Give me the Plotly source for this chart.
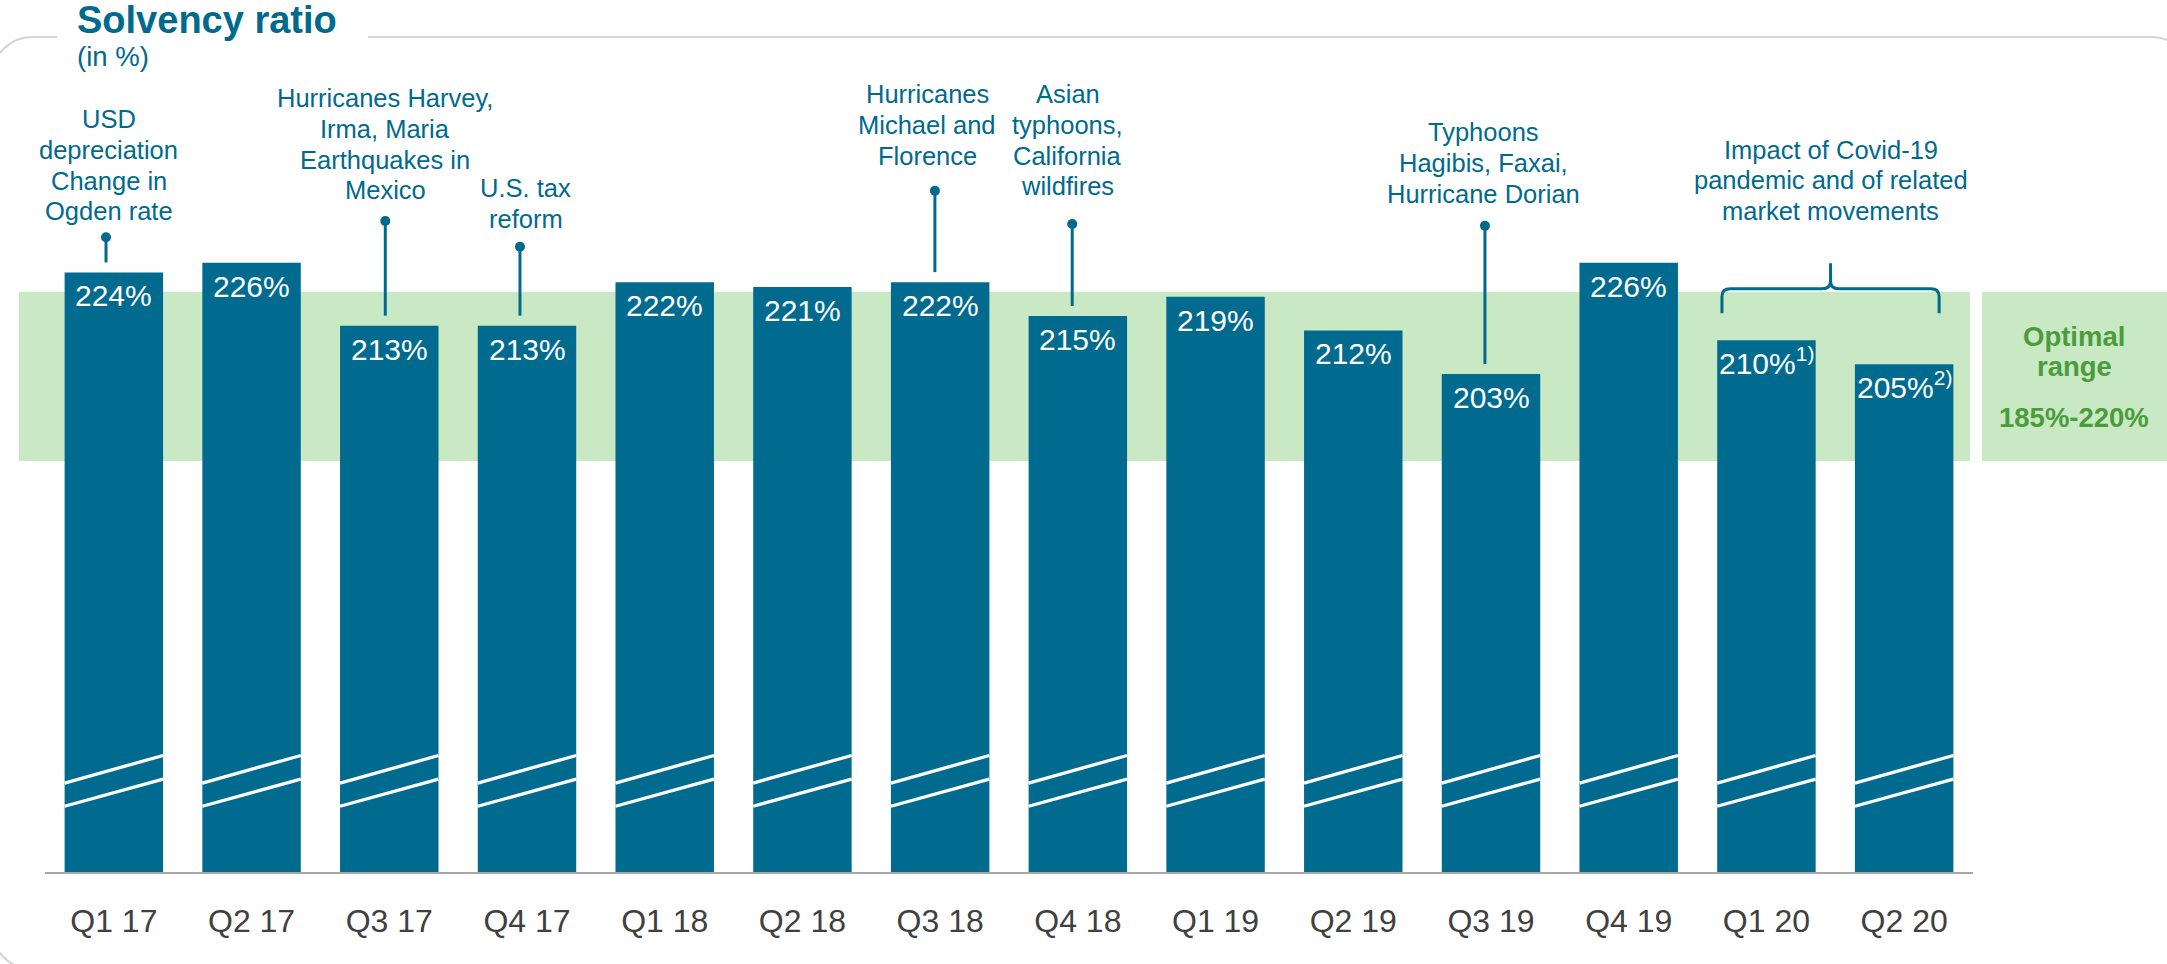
import plotly.graph_objects as go

# ---- data -------------------------------------------------------------
quarters = ["Q1 17", "Q2 17", "Q3 17", "Q4 17", "Q1 18", "Q2 18", "Q3 18",
            "Q4 18", "Q1 19", "Q2 19", "Q3 19", "Q4 19", "Q1 20", "Q2 20"]
solvency = [224, 226, 213, 213, 222, 221, 222, 215, 219, 212, 203, 226, 210, 205]
footnotes = ["", "", "", "", "", "", "", "", "", "", "", "", "1)", "2)"]
optimal_range = [185, 220]
axis_base = 100  # broken axis: bars start at 100 %

# event notes: quarter, text lines
events = [
    ("Q1 17", ["USD", "depreciation", "Change in", "Ogden rate"]),
    ("Q3 17", ["Hurricanes Harvey,", "Irma, Maria", "Earthquakes in", "Mexico"]),
    ("Q4 17", ["U.S. tax", "reform"]),
    ("Q3 18", ["Hurricanes", "Michael and", "Florence"]),
    ("Q4 18", ["Asian", "typhoons,", "California", "wildfires"]),
    ("Q3 19", ["Typhoons", "Hagibis, Faxai,", "Hurricane Dorian"]),
]
covid_quarters = ["Q1 20", "Q2 20"]
covid_lines = ["Impact of Covid-19", "pandemic and of related", "market movements"]

# ---- layout geometry ----------------------------------------------------
W, H = 2167, 964
ML, MR, MT, MB = 45, 194, 0, 92
PW, PH = W - ML - MR, H - MT - MB
N = len(quarters)
PX_PER_PCT = 4.835
Y_TOP = axis_base + PH / PX_PER_PCT
BAR_W = 0.715

FONT = "Liberation Sans, Arial, Helvetica, sans-serif"
TEAL = "#006a8e"
BAR = "#006b8f"
GREEN_FILL = "#c9e8c4"
GREEN_TEXT = "#4a9d3a"
BORDER = "#d3d3d3"


def pxx(px):  # page pixel -> paper x
    return (px - ML) / PW


def pxy(py):  # page pixel (from top) -> paper y
    return (H - MB - py) / PH


def yval(py):  # page pixel (from top) -> y value
    return axis_base + (H - MB - py) / PX_PER_PCT


idx = {q: i for i, q in enumerate(quarters)}

fig = go.Figure()
fig.add_trace(go.Bar(
    x=list(range(N)), y=solvency, width=BAR_W,
    marker=dict(color=BAR, line=dict(width=0)),
    hoverinfo="skip",
))

annotations = []
shapes = []


def text_line(x, baseline_py, text, size, color, bold=False, xref="x",
              xanchor="center"):
    bottom_py = baseline_py + 0.212 * size + 2
    annotations.append(dict(
        x=x, xref=xref, y=pxy(bottom_py), yref="paper",
        xanchor=xanchor, yanchor="bottom", showarrow=False,
        text=f"<b>{text}</b>" if bold else text,
        font=dict(family=FONT, size=size, color=color),
    ))


# value labels inside the bars
for i, (v, fn) in enumerate(zip(solvency, footnotes)):
    label = f"{v}%" + (f"<sup>{fn}</sup>" if fn else "")
    annotations.append(dict(
        x=i, y=v, xref="x", yref="y", xanchor="center", yanchor="bottom",
        yshift=-(33.5 + 0.212 * 30 + 2), showarrow=False, text=label,
        font=dict(family=FONT, size=30, color="white"),
    ))

# axis-break marks across every bar
BREAKS = [(113.6, 119.2), (118.4, 124.1)]
for i in range(N):
    for y0, y1 in BREAKS:
        shapes.append(dict(type="line", xref="x", yref="y",
                           x0=i - BAR_W / 2, x1=i + BAR_W / 2, y0=y0, y1=y1,
                           line=dict(color="white", width=3.3), layer="above"))

# optimal range band and its caption box
shapes.append(dict(type="rect", xref="paper", yref="y",
                   x0=pxx(19), x1=pxx(1970),
                   y0=optimal_range[0], y1=optimal_range[1],
                   fillcolor=GREEN_FILL, line=dict(width=0), layer="below"))
shapes.append(dict(type="rect", xref="paper", yref="y",
                   x0=pxx(1982), x1=pxx(2200),
                   y0=optimal_range[0], y1=optimal_range[1],
                   fillcolor=GREEN_FILL, line=dict(width=0), layer="below"))
cap_x = pxx(2074)
text_line(cap_x, 345.7, "Optimal", 27.5, GREEN_TEXT, bold=True, xref="paper")
text_line(cap_x, 376.5, "range", 27.5, GREEN_TEXT, bold=True, xref="paper")
text_line(cap_x, 426.7, f"{optimal_range[0]}%-{optimal_range[1]}%", 27.5,
          GREEN_TEXT, bold=True, xref="paper")

# event notes with leader lines
note_style = {
    # quarter: (text dx, leader dx, first baseline px, dot px)
    "Q1 17": (-0.038, -0.057, 127.7, 237.3),
    "Q3 17": (-0.031, -0.029, 106.7, 221.0),
    "Q4 17": (-0.008, -0.051, 196.7, 246.7),
    "Q3 18": (-0.092, -0.038, 102.7, 190.7),
    "Q4 18": (-0.074, -0.041, 102.7, 224.0),
    "Q3 19": (-0.054, -0.044, 141.0, 225.7),
}
LINE_STEP = 30.7
NOTE_SIZE = 25.5
lx, ly, dx_, dy_ = [], [], [], []
for q, lines in events:
    i = idx[q]
    tdx, ldx, base0, dot = note_style[q]
    for k, ln in enumerate(lines):
        text_line(i + tdx, base0 + k * LINE_STEP, ln, NOTE_SIZE, TEAL)
    x_lead = i + ldx
    lx += [x_lead, x_lead, None]
    ly += [yval(dot), solvency[i] + 10 / PX_PER_PCT, None]
    dx_.append(x_lead)
    dy_.append(yval(dot))

fig.add_trace(go.Scatter(x=lx, y=ly, mode="lines",
                         line=dict(color=TEAL, width=3),
                         hoverinfo="skip", cliponaxis=False))
fig.add_trace(go.Scatter(x=dx_, y=dy_, mode="markers",
                         marker=dict(color=TEAL, size=10),
                         hoverinfo="skip", cliponaxis=False))

# covid note with a curly brace over the last two quarters
c0, c1 = idx[covid_quarters[0]], idx[covid_quarters[1]]
L, R = c0 - 0.323, c1 + 0.254
T = (L + R) / 2
y_end, y_h, y_tip = yval(313.3), yval(288.8), yval(263.2)
rx, ry = 0.06, 1.6
brace = (f"M {L},{y_end} L {L},{y_h - ry} Q {L},{y_h} {L + rx},{y_h} "
         f"L {T - rx},{y_h} Q {T},{y_h} {T},{y_h + ry} L {T},{y_tip} "
         f"M {T},{y_h + ry} Q {T},{y_h} {T + rx},{y_h} "
         f"L {R - rx},{y_h} Q {R},{y_h} {R},{y_h - ry} L {R},{y_end}")
shapes.append(dict(type="path", xref="x", yref="y", path=brace,
                   line=dict(color=TEAL, width=3), layer="above"))
for k, ln in enumerate(covid_lines):
    text_line(T, 158.3 + k * LINE_STEP, ln, NOTE_SIZE, TEAL)

# title
annotations.append(dict(x=pxx(75), xref="paper", y=pxy(32.5 + 0.212 * 38 + 2),
                        yref="paper", xanchor="left", yanchor="bottom",
                        showarrow=False, text="<b>Solvency ratio</b>",
                        font=dict(family=FONT, size=38, color=TEAL)))
annotations.append(dict(x=pxx(75), xref="paper", y=pxy(66.5 + 0.212 * 27.5 + 2),
                        yref="paper", xanchor="left", yanchor="bottom",
                        showarrow=False, text="(in %)",
                        font=dict(family=FONT, size=27.5, color=TEAL)))

# rounded frame, open behind the title
xl, xr, yt, yb, r = -8, 2192, 37, 969, 40
k = 0.5523 * r


def P(px, py):
    return f"{pxx(px)},{pxy(py)}"


frame = (f"M {P(368, yt)} L {P(xr - r, yt)} "
         f"C {P(xr - r + k, yt)} {P(xr, yt + r - k)} {P(xr, yt + r)} "
         f"L {P(xr, yb - r)} "
         f"C {P(xr, yb - r + k)} {P(xr - r + k, yb)} {P(xr - r, yb)} "
         f"L {P(xl + r, yb)} "
         f"C {P(xl + r - k, yb)} {P(xl, yb - r + k)} {P(xl, yb - r)} "
         f"L {P(xl, yt + r)} "
         f"C {P(xl, yt + r - k)} {P(xl + r - k, yt)} {P(xl + r, yt)} "
         f"L {P(57, yt)}")
shapes.append(dict(type="path", xref="paper", yref="paper", path=frame,
                   line=dict(color=BORDER, width=2)))

fig.update_layout(
    width=W, height=H,
    margin=dict(l=ML, r=MR, t=MT, b=MB, pad=0),
    paper_bgcolor="white", plot_bgcolor="white",
    showlegend=False,
    annotations=annotations, shapes=shapes,
    xaxis=dict(range=[-0.5, N - 0.5], tickmode="array",
               tickvals=list(range(N)), ticktext=quarters,
               showgrid=False, zeroline=False, ticks="",
               showline=True, linecolor="#a6a6a6", linewidth=2,
               tickfont=dict(family=FONT, size=32, color="#404040"),
               ticklabelstandoff=20, fixedrange=True),
    yaxis=dict(range=[axis_base, Y_TOP], visible=False, fixedrange=True),
)

fig.write_html("out.html")
